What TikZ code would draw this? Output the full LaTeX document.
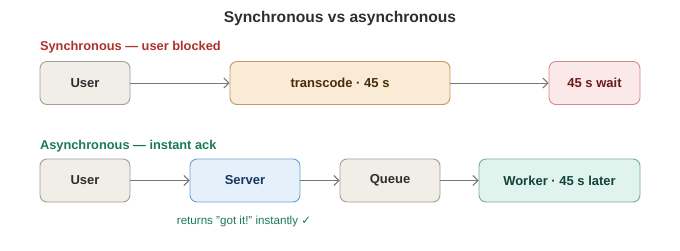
\documentclass[tikz,border=0pt]{standalone}
\usepackage{fontspec}
\setmainfont{Liberation Sans}
\newfontfamily\symfont{DejaVu Sans}
\usepackage{tikz}
\usetikzlibrary{arrows.meta, positioning}
\definecolor{plainfill}{HTML}{F1EEE8}
\definecolor{plaindraw}{HTML}{A39E98}
\definecolor{plaintext}{HTML}{2E2E2E}
\definecolor{busyfill}{HTML}{FAEBD7}
\definecolor{busydraw}{HTML}{C29A62}
\definecolor{busytext}{HTML}{4A2C08}
\definecolor{waitfill}{HTML}{FBE9E9}
\definecolor{waitdraw}{HTML}{D48A8A}
\definecolor{waittext}{HTML}{6A1C1C}
\definecolor{srvfill}{HTML}{E6F0FB}
\definecolor{srvdraw}{HTML}{6E9ED2}
\definecolor{srvtext}{HTML}{17385E}
\definecolor{wrkfill}{HTML}{E0F3EC}
\definecolor{wrkdraw}{HTML}{72AE9C}
\definecolor{wrktext}{HTML}{11433A}
\definecolor{syncred}{HTML}{B0302A}
\definecolor{asyncgreen}{HTML}{1A7A55}
\definecolor{arrowgray}{HTML}{777777}
\tikzset{
  stage/.style={
    draw,
    rectangle,
    rounded corners=7pt,
    line width=0.9pt,
    minimum height=43pt,
    align=center,
    font=\fontsize{13}{15}\selectfont\bfseries,
  },
  plainstage/.style={
    stage,
    fill=plainfill,
    draw=plaindraw,
    text=plaintext
  },
  arrow/.style={
    -{Straight Barb[length=5pt,width=10pt]},
    line width=1pt,
    draw=arrowgray
  }
}

\begin{document}
\begin{tikzpicture}[
  x=1pt, y=-1pt,
  busystage/.style={stage, fill=busyfill, draw=busydraw, text=busytext},
  waitstage/.style={stage, fill=waitfill, draw=waitdraw, text=waittext},
  serverstage/.style={stage, fill=srvfill, draw=srvdraw, text=srvtext},
  workerstage/.style={stage, fill=wrkfill, draw=wrkdraw, text=wrktext},
  rowlabel/.style={anchor=west, font=\fontsize{12.8}{14}\selectfont\bfseries}
]
\useasboundingbox (0,0) rectangle (680,250);

\node[font=\fontsize{15.6}{17}\selectfont\bfseries, text=plaintext] (title) at (340,18) {Synchronous vs asynchronous};

% synchronous row
\node[rowlabel, text=syncred] (synclabel) at (36.5,47) {Synchronous — user blocked};
\node[plainstage, minimum width=90pt] (syncuser) at (85,83) {User};
\node[busystage, minimum width=220pt] (transcode) at (340,83) {transcode · 45 s};
\node[waitstage, minimum width=91pt] (wait) at (594.5,83) {45 s wait};

\draw[arrow] (syncuser) -- (transcode);
\draw[arrow] (transcode) -- (wait);

% asynchronous row
\node[rowlabel, text=asyncgreen] (asynclabel) at (36.5,146) {Asynchronous — instant ack};
\node[plainstage, minimum width=90pt] (asyncuser) at (85,180.5) {User};
\node[serverstage, minimum width=110pt] (server) at (245,180.5) {Server};
\node[plainstage, minimum width=100pt] (queue) at (390,180.5) {Queue};
\node[workerstage, minimum width=161pt] (worker) at (559.5,180.5) {Worker · 45 s later};

\draw[arrow] (asyncuser) -- (server);
\draw[arrow] (server) -- (queue);
\draw[arrow] (queue) -- (worker);

\node[font=\fontsize{11.6}{13}\selectfont, text=asyncgreen] (ack) at (244,221) {returns "got it!" instantly {\symfont ✓}};
\end{tikzpicture}
\end{document}
